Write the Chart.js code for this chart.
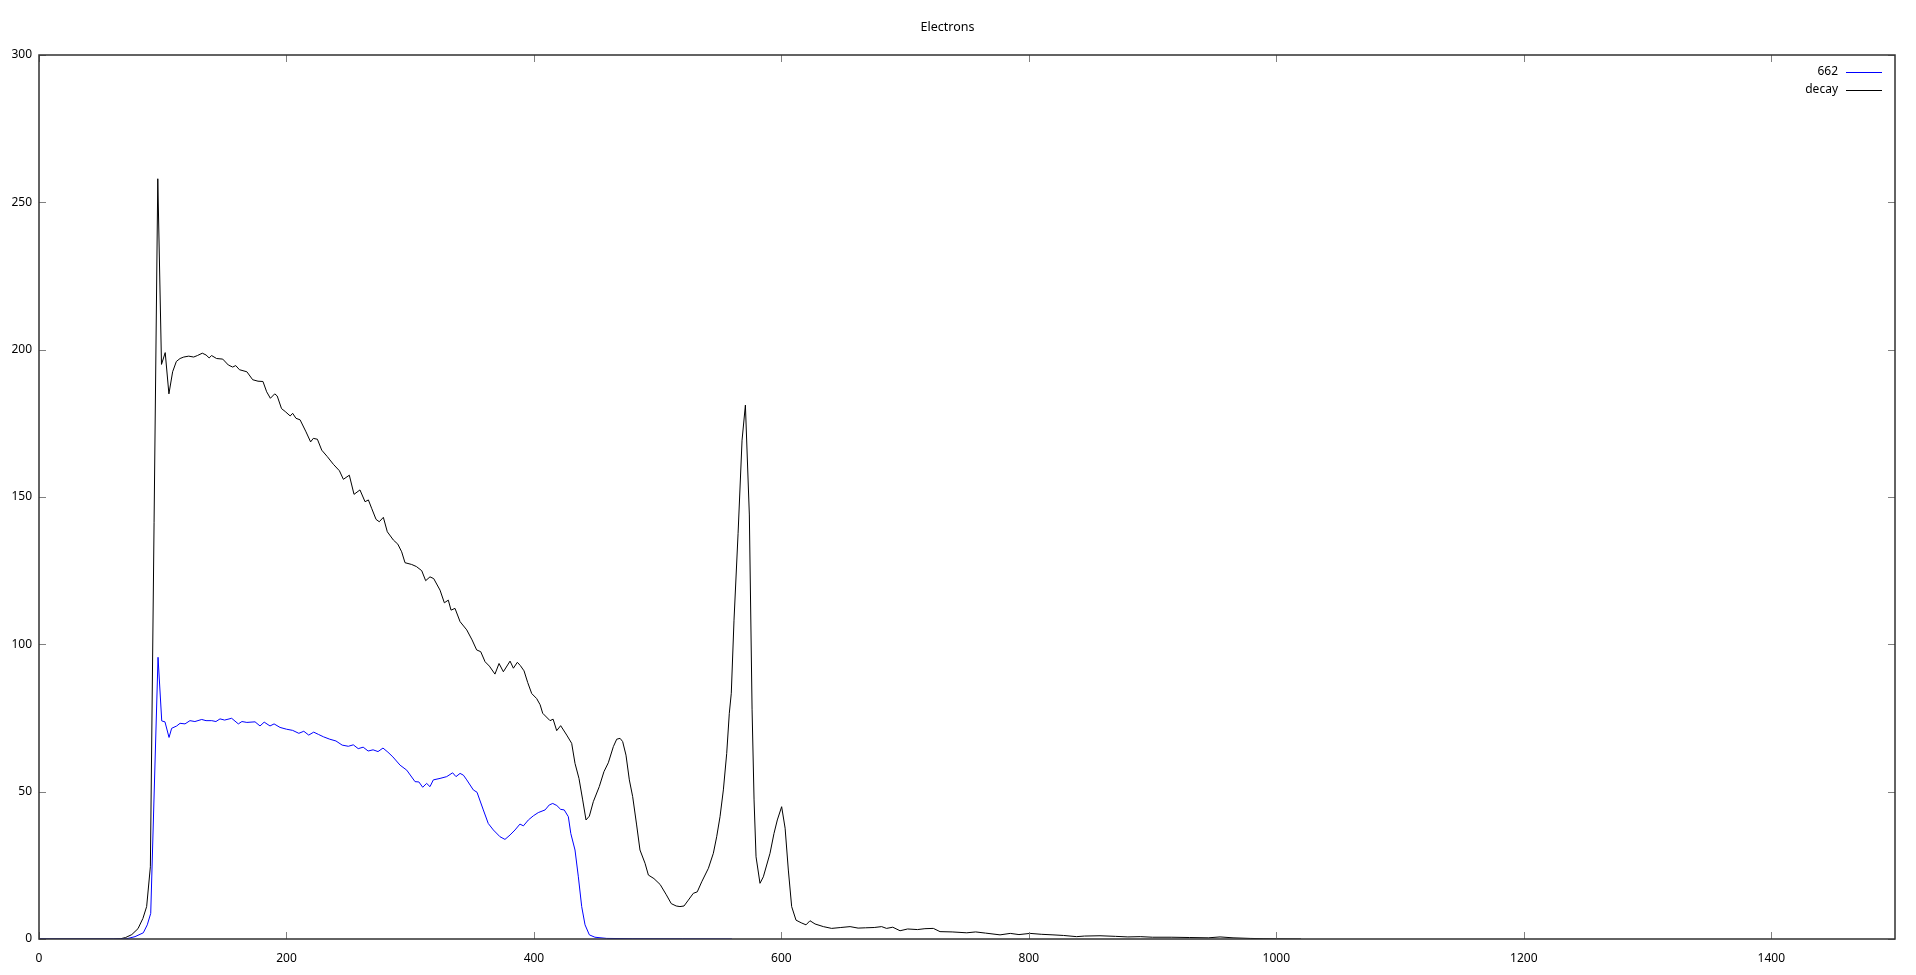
<!DOCTYPE html>
<html>
<head>
<meta charset="utf-8">
<title>Electrons</title>
<script src="https://cdn.jsdelivr.net/npm/chart.js@4.4.1/dist/chart.umd.min.js"></script>
<style>
  html, body { margin: 0; padding: 0; background: #fff; }
  #wrap { width: 1916px; height: 975px; }
</style>
</head>
<body>
<div id="wrap"><canvas id="electronChart"></canvas></div>
<script>
// spectrum (energy in x, counts in y)
const energy662 = [0, 65, 70.9, 77.6, 84.3, 87.5, 90.3, 96.2, 99.2, 101.8, 105.1, 107.2, 111.3, 114, 118, 122, 126,
  131.5, 135, 139.6, 143, 146.3, 150, 155.7, 161.1, 164, 168, 174.6, 178.6, 182, 186.7, 190, 194.8, 200, 205, 210,
  214, 218, 222, 226, 230, 235, 240, 245, 250, 254, 258, 262, 266, 270, 274, 278, 282, 286, 291.8, 297.2, 303.9,
  307, 310.1, 313.3, 316, 318.7, 324.1, 329.5, 334.3, 337, 340.3, 343, 345.7, 351, 354, 359.1, 363.1, 367.2, 372.6,
  376.6, 380.7, 384.7, 388.7, 391.5, 395.5, 399.5, 403.5, 409, 412.4, 415.2, 418.5, 421.6, 424.5, 427.8, 429.8,
  433.2, 435.9, 438.6, 441.3, 444.8, 449.3, 458.8, 480, 520, 560];
const counts662 = [0, 0, 0.1, 0.8, 2.1, 4.8, 8.7, 95.6, 74, 73.7, 68.4, 71.5, 72.3, 73.2, 73, 74.1, 73.8,
  74.5, 74.1, 74.1, 73.8, 74.7, 74.3, 74.9, 73, 73.8, 73.5, 73.7, 72.3, 73.6, 72.3, 73, 71.8, 71.2, 70.8, 69.8,
  70.5, 69.2, 70.2, 69.4, 68.6, 67.8, 67.2, 65.8, 65.4, 65.9, 64.6, 65.1, 63.8, 64.2, 63.6, 64.8, 63.4, 61.8, 59, 57.3, 53.4,
  53.3, 51.5, 52.8, 51.7, 54, 54.5, 55.1, 56.4, 55.1, 56.2, 55.6, 54, 50.6, 49.8, 43.8, 39.2, 37, 34.7,
  33.8, 35.3, 37, 39, 38.4, 40.4, 41.8, 42.9, 43.8, 45.5, 46, 45.3, 44, 43.8, 41.5, 35.8,
  30.2, 21.1, 11, 4.8, 1.4, 0.6, 0.2, 0.1, 0.05, 0];

const energyDecay = [0, 60, 66, 70, 75, 80, 84, 87, 90, 96, 99, 102, 105, 108, 111, 114, 117, 121, 125, 128, 132,
  135, 137.5, 139.5, 143.5, 148.5, 153, 156.5, 159, 162, 168, 172.7, 177, 181, 184, 187, 190.5, 192.5, 196, 199,
  203, 205, 207.7, 211, 215.8, 219.5, 221.7, 225, 228.5, 233, 237.9, 242.8, 246, 250.8, 254.6, 259.4, 263.5, 266.2,
  269, 272.4, 275, 278.3, 281.5, 286.4, 290, 293.1, 295.8, 301.2, 305, 309.3, 312.5, 316, 319, 324.1, 327.6, 330.8,
  333, 336.2, 340.3, 345.7, 350, 353.7, 357, 360.5, 364, 368.5, 371.8, 375.3, 380.7, 383.4, 386.6, 389, 392, 395,
  398.2, 402.2, 405, 407.1, 413, 415.5, 418.4, 421.6, 426.5, 430.5, 433.2, 436.4, 439.4, 442.1, 444.8, 448, 452.8,
  456.6, 460.1, 464.2, 466.9, 469.6, 471.7, 474.4, 477.1, 479.8, 483, 485.7, 489.8, 492.5, 497, 502, 507, 511, 515,
  518, 521.3, 524.8, 528.8, 532, 535.6, 541, 545, 547.7, 550.4, 553.1, 555.8, 557.9, 559.5, 561.7, 565, 568.2, 570.9,
  574.1, 576.3, 577.9, 579.5, 582.7, 585.4, 590.8, 594, 596.7, 600.2, 603, 605.6, 608.3, 611.8, 616, 619.9, 623.1,
  627.2, 633.9, 640.6, 648, 655.5, 662, 668, 675, 681, 685, 690, 695.9, 702, 710, 716, 722.8, 728.2, 738, 749.8,
  757, 765, 776.7, 785, 792, 801, 810, 819.5, 828, 838.6, 845, 857.5, 870, 880, 890, 900, 915, 930, 945, 954.5,
  965, 978.8, 990, 1000, 1020];
const countsDecay = [0, 0, 0.1, 0.5, 1.5, 3.5, 7, 11, 24.5, 258, 195, 199, 185, 192.5, 196, 197, 197.5, 197.8, 197.5, 198, 198.8,
  198.2, 197.2, 198, 197, 196.8, 194.8, 194.1, 194.6, 193.2, 192.5, 189.8, 189.3, 189.2, 185.7, 183.5, 185, 184.3, 180, 179,
  177.5, 178.4, 176.7, 176.2, 172.1, 168.7, 169.9, 169.6, 165.9, 163.7, 161.1, 158.9, 156, 157.4, 150.9, 152.4, 148.4, 149,
  146, 142.4, 141.6, 143.1, 138.2, 135.4, 134, 131.4, 127.7, 127.1, 126.4, 125, 121.6, 122.9, 122.3, 118.4, 114.1, 115,
  111.6, 112.2, 107.7, 104.9, 101.5, 98.1, 97.5, 94.1, 92.6, 89.9, 93.5, 90.7, 94.3, 91.9, 93.9, 92.8, 91, 87,
  83.3, 81.6, 79.5, 76.6, 74.1, 74.6, 70.7, 72.4, 69.2, 66.4, 59.6, 54.5, 47.2, 40.4, 41.7, 46.6, 51.7,
  56.8, 59.8, 65.3, 67.8, 68.1, 67, 62.4, 54, 48.3, 38.7, 30.2, 25.7, 21.7, 20.5, 18.5, 15, 12, 11.2,
  11, 11.2, 13.2, 15.5, 16, 19.4, 24, 29.1, 34.7, 41.5, 50.6, 63, 76.6, 83.4, 108.2, 137.7, 169.3, 181.2,
  143.9, 78, 47.2, 27.9, 18.9, 21.1, 29.1, 35.8, 40.4, 44.9, 37.6, 23.4, 11, 6.4, 5.5, 4.8, 6.2,
  5.1, 4.2, 3.6, 3.9, 4.2, 3.7, 3.8, 3.9, 4.2, 3.6, 4.0, 2.8, 3.4, 3.2, 3.5, 3.6, 2.5, 2.4, 2.1,
  2.4, 2.0, 1.4, 1.9, 1.5, 1.9, 1.6, 1.4, 1.2, 0.8, 1.0, 1.1, 0.9, 0.7, 0.8, 0.6, 0.6, 0.5, 0.4, 0.7,
  0.4, 0.2, 0.1, 0.05, 0];

const seriesNames = ["662", "decay"];
const seriesColors = ["#0000ff", "#000000"];

function toPoints(xs, ys) {
  return xs.map((x, i) => ({ x: x, y: ys[i] }));
}

// gnuplot style: ticks pointing inwards on all four sides, plus a frame
const borderTicks = {
  id: "borderTicks",
  afterDatasetsDraw(chart) {
    const { ctx, chartArea: a, scales } = chart;
    const len = 7;
    ctx.save();
    ctx.strokeStyle = "#808080";
    ctx.lineWidth = 1;
    ctx.beginPath();
    scales.x.ticks.forEach((t) => {
      const px = Math.round(scales.x.getPixelForValue(t.value)) + 0.5;
      ctx.moveTo(px, a.bottom);
      ctx.lineTo(px, a.bottom - len);
      ctx.moveTo(px, a.top);
      ctx.lineTo(px, a.top + len);
    });
    scales.y.ticks.forEach((t) => {
      const py = Math.round(scales.y.getPixelForValue(t.value)) + 0.5;
      ctx.moveTo(a.left, py);
      ctx.lineTo(a.left + len, py);
      ctx.moveTo(a.right, py);
      ctx.lineTo(a.right - len, py);
    });
    ctx.stroke();
    ctx.strokeStyle = "#303030";
    ctx.lineWidth = 1.5;
    ctx.strokeRect(a.left, a.top, a.right - a.left, a.bottom - a.top);
    ctx.restore();
  },
};

// key in the top right corner, text first and sample line after it
const cornerKey = {
  id: "cornerKey",
  afterDraw(chart) {
    const { ctx, chartArea: a } = chart;
    ctx.save();
    ctx.font = "12px 'Noto Sans'";
    ctx.textAlign = "right";
    ctx.textBaseline = "middle";
    chart.data.datasets.forEach((ds, i) => {
      const y = a.top + 17 + i * 18;
      ctx.fillStyle = "#000";
      ctx.fillText(ds.label, a.right - 57, y);
      ctx.strokeStyle = ds.borderColor;
      ctx.lineWidth = 1;
      ctx.beginPath();
      ctx.moveTo(a.right - 49, Math.round(y) + 0.5);
      ctx.lineTo(a.right - 13, Math.round(y) + 0.5);
      ctx.stroke();
    });
    ctx.restore();
  },
};

const ctx = document.getElementById("electronChart").getContext("2d");

const config = {
  type: "line",
  data: {
    datasets: [
      {
        label: seriesNames[0],
        data: toPoints(energy662, counts662),
        borderColor: seriesColors[0],
        borderWidth: 1,
        pointRadius: 0,
        tension: 0,
        fill: false,
      },
      {
        label: seriesNames[1],
        data: toPoints(energyDecay, countsDecay),
        borderColor: seriesColors[1],
        borderWidth: 1,
        pointRadius: 0,
        tension: 0,
        fill: false,
      },
    ],
  },
  options: {
    responsive: true,
    maintainAspectRatio: false,
    animation: false,
    layout: { padding: { left: 0, right: 21, top: 0, bottom: 0 } },
    plugins: {
      legend: { display: false },
      tooltip: { enabled: false },
      title: {
        display: true,
        text: "Electrons",
        color: "#000",
        font: { family: "'Noto Sans'", size: 12.5, weight: "normal" },
        padding: { top: 20, bottom: 20 },
      },
    },
    scales: {
      x: {
        type: "linear",
        min: 0,
        max: 1500,
        grid: { display: false, drawTicks: false },
        border: { display: false },
        ticks: {
          stepSize: 200,
          includeBounds: false,
          maxRotation: 0,
          padding: 12,
          color: "#000",
          font: { family: "'Noto Sans'", size: 12 },
          callback: (value) => String(value),
        },
        afterFit: (scale) => { scale.height = 36; },
      },
      y: {
        min: 0,
        max: 300,
        grid: { display: false, drawTicks: false },
        border: { display: false },
        ticks: {
          stepSize: 50,
          padding: 7,
          color: "#000",
          font: { family: "'Noto Sans'", size: 12 },
          callback: (value) => String(value),
        },
        afterFit: (scale) => { scale.width = 39; },
      },
    },
  },
  plugins: [borderTicks, cornerKey],
};

let chart = new Chart(ctx, config);
</script>
</body>
</html>
